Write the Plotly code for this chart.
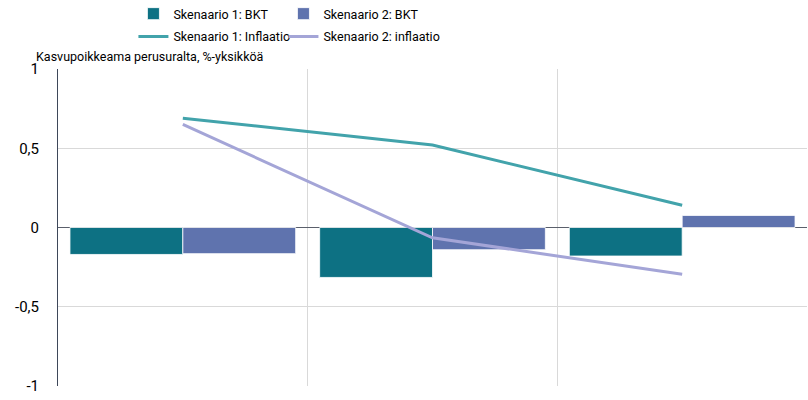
import plotly.graph_objects as go

# categories (x labels are hidden in the original chart)
categories = ["2023", "2024", "2025"]

s1_bkt = [-0.17, -0.315, -0.18]
s2_bkt = [-0.165, -0.14, 0.076]
s1_infl = [0.69, 0.52, 0.14]
s2_infl = [0.65, -0.065, -0.295]

y_ticks = [-1, -0.5, 0, 0.5, 1]
y_ticktext = ["-1", "-0,5", "0", "0,5", "1"]

FONT = "Roboto, sans-serif"

fig = go.Figure()

# one legend per entry so the 2x2 grid can be placed like the original
fig.add_trace(go.Bar(
    x=categories, y=s1_bkt, name="Skenaario 1: BKT",
    marker=dict(color="#0D7183", line=dict(color="#ffffff", width=0.8)),
    legend="legend",
))
fig.add_trace(go.Bar(
    x=categories, y=s2_bkt, name="Skenaario 2: BKT",
    marker=dict(color="#5F73AE", line=dict(color="#ffffff", width=0.8)),
    legend="legend2",
))
fig.add_trace(go.Scatter(
    x=categories, y=s1_infl, name="Skenaario 1: Inflaatio",
    mode="lines", line=dict(color="#42A3AB", width=3),
    legend="legend3",
))
fig.add_trace(go.Scatter(
    x=categories, y=s2_infl, name="Skenaario 2: inflaatio",
    mode="lines", line=dict(color="#A4A5D7", width=3),
    legend="legend4",
))

legend_style = dict(
    orientation="v", yanchor="middle", xanchor="left",
    font=dict(family=FONT, size=12.5, color="#000000"),
    bgcolor="rgba(0,0,0,0)", itemwidth=30,
)
col1, col2 = 0.1007, 0.3010
row1, row2 = 1.1735, 1.101

fig.update_layout(
    width=808, height=400,
    margin=dict(l=58, r=1, t=69, b=14, autoexpand=False),
    plot_bgcolor="white", paper_bgcolor="white",
    barmode="group", bargap=0.096, bargroupgap=0,
    showlegend=True,
    legend=dict(legend_style, x=col1, y=row1),
    legend2=dict(legend_style, x=col2, y=row1),
    legend3=dict(legend_style, x=col1, y=row2),
    legend4=dict(legend_style, x=col2, y=row2),
    font=dict(family=FONT, size=12.5, color="#000000"),
    xaxis=dict(
        type="category", range=[-0.5, 2.5], tickson="boundaries",
        showticklabels=False, ticks="", showgrid=True,
        gridcolor="#D9D9D9", gridwidth=1, showline=False, zeroline=False,
    ),
    yaxis=dict(
        range=[-1, 1], tickvals=y_ticks, ticktext=y_ticktext,
        showgrid=True, gridcolor="#D9D9D9", gridwidth=1,
        zeroline=True, zerolinecolor="#5A5F6B", zerolinewidth=1,
        showline=True, linecolor="#3E4759", linewidth=1,
        ticks="", ticklabelstandoff=15,
        tickfont=dict(family=FONT, size=15, color="#000000"),
    ),
    annotations=[dict(
        text="Kasvupoikkeama perusuralta, %-yksikköä",
        xref="paper", yref="paper", x=-0.032, y=1.0315, yshift=3,
        xanchor="left", yanchor="middle", showarrow=False,
        font=dict(family=FONT, size=12.5, color="#000000"),
    )],
)

fig.write_html(
    "out.html",
    config={"displayModeBar": False},
    post_script="document.body.style.margin='0';",
)
